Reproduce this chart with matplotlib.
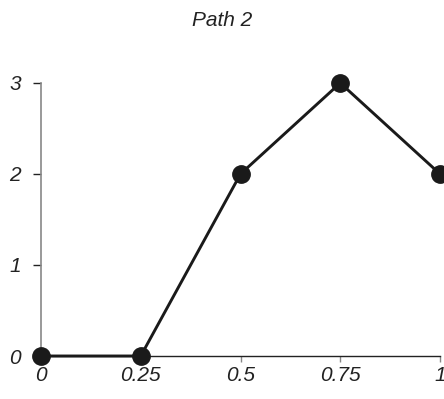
import matplotlib.pyplot as plt

x_vals = [0, 0.25, 0.5, 0.75, 1]
y_vals = [0, 0, 2, 3, 2]
x_ticks = [0, 0.25, 0.5, 0.75, 1]
x_labels = ['0', '0.25', '0.5', '0.75', '1']
y_ticks = [0, 1, 2, 3]
y_labels = ['0', '1', '2', '3']

plt.rcParams['font.family'] = ['Liberation Sans', 'DejaVu Sans']

fig = plt.figure(figsize=(4.44, 3.99), dpi=100)
ax = fig.add_axes([41 / 444, 1 - 356 / 399, 399 / 444, (356 - 83) / 399])

ax.plot(x_vals, y_vals, color='#1a1a1a', linewidth=2.1, marker='o',
        markersize=12.5, markerfacecolor='#1a1a1a', markeredgecolor='#1a1a1a',
        clip_on=False, zorder=3)

ax.set_xlim(0, 1)
ax.set_ylim(0, 3)
ax.set_xticks(x_ticks)
ax.set_xticklabels(x_labels, fontsize=15, style='italic', color='#222222')
ax.set_yticks(y_ticks)
ax.set_yticklabels(y_labels, fontsize=15, style='italic', color='#222222')

for s in ['top', 'right']:
    ax.spines[s].set_visible(False)
ax.spines['left'].set_color('#888888')
ax.spines['left'].set_linewidth(1.2)
ax.spines['bottom'].set_color('#222222')
ax.spines['bottom'].set_linewidth(1.0)

ax.tick_params(axis='x', direction='out', length=4, width=1, color='#888888', pad=3)
ax.tick_params(axis='y', direction='out', length=5.5, width=1, color='#222222', pad=9)

fig.text(0.5, 1 - 20 / 399, 'Path 2', ha='center', va='center',
         fontsize=15, style='italic', color='#222222')

fig.savefig('out.png', dpi=100)
